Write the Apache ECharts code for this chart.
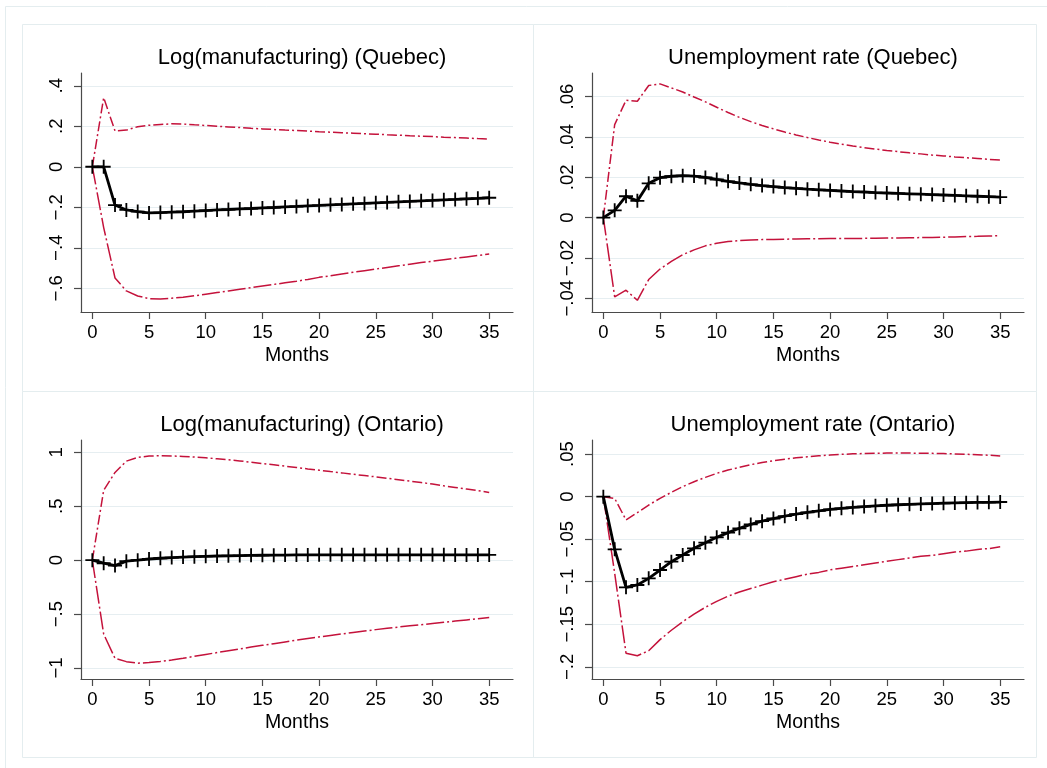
<!DOCTYPE html>
<html>
<head>
<meta charset="utf-8">
<script src="https://cdn.jsdelivr.net/npm/echarts@6/dist/echarts.min.js"></script>
<style>
  html, body { margin: 0; padding: 0; background: #ffffff; }
  #chart { width: 1047px; height: 768px; }
</style>
</head>
<body>
<div id="chart"></div>
<script>
// Impulse responses over 36 months with lower/upper confidence bands
const months = Array.from({ length: 36 }, (_, i) => i);
const monthTicks = [0, 5, 10, 15, 20, 25, 30, 35];

const titles = [
  'Log(manufacturing) (Quebec)',
  'Unemployment rate (Quebec)',
  'Log(manufacturing) (Ontario)',
  'Unemployment rate (Ontario)'
];

// Log(manufacturing), Quebec
const qcMfgIrf = [0, 0, -0.189, -0.213, -0.221, -0.228, -0.226, -0.224, -0.222, -0.219, -0.216, -0.213, -0.211, -0.208, -0.206, -0.203, -0.201, -0.198, -0.196, -0.193, -0.191, -0.188, -0.186, -0.183, -0.181, -0.178, -0.176, -0.173, -0.171, -0.168, -0.166, -0.163, -0.161, -0.158, -0.156, -0.153];
const qcMfgUpper = [0, 0.341, 0.177, 0.181, 0.198, 0.205, 0.209, 0.212, 0.211, 0.207, 0.204, 0.2, 0.197, 0.194, 0.19, 0.187, 0.184, 0.181, 0.179, 0.176, 0.173, 0.171, 0.168, 0.166, 0.163, 0.161, 0.158, 0.156, 0.153, 0.151, 0.149, 0.146, 0.144, 0.142, 0.139, 0.137];
const qcMfgLower = [0, -0.3, -0.549, -0.613, -0.638, -0.651, -0.653, -0.649, -0.644, -0.637, -0.629, -0.621, -0.613, -0.605, -0.597, -0.589, -0.581, -0.573, -0.565, -0.556, -0.546, -0.538, -0.529, -0.521, -0.513, -0.505, -0.497, -0.489, -0.481, -0.473, -0.466, -0.459, -0.452, -0.445, -0.438, -0.431];

// Unemployment rate, Quebec
const qcUnIrf = [0, 0.0036, 0.0106, 0.0083, 0.017, 0.0198, 0.0205, 0.0208, 0.0206, 0.0199, 0.0189, 0.018, 0.0172, 0.0165, 0.0159, 0.0154, 0.0149, 0.0145, 0.0141, 0.0138, 0.0135, 0.0132, 0.0129, 0.0127, 0.0124, 0.0122, 0.012, 0.0118, 0.0116, 0.0114, 0.0112, 0.011, 0.0108, 0.0106, 0.0104, 0.0102];
const qcUnUpper = [0, 0.0461, 0.0582, 0.0577, 0.0655, 0.0663, 0.0643, 0.0623, 0.0598, 0.0574, 0.0547, 0.0521, 0.0497, 0.0476, 0.0457, 0.044, 0.0424, 0.041, 0.0397, 0.0385, 0.0374, 0.0364, 0.0355, 0.0347, 0.034, 0.0333, 0.0327, 0.0321, 0.0316, 0.031, 0.0306, 0.0301, 0.0297, 0.0293, 0.0289, 0.0286];
const qcUnLower = [0, -0.0393, -0.036, -0.041, -0.0307, -0.0255, -0.0217, -0.0184, -0.016, -0.014, -0.0127, -0.0119, -0.0114, -0.0111, -0.0109, -0.0108, -0.0107, -0.0106, -0.0105, -0.0105, -0.0104, -0.0104, -0.0103, -0.0103, -0.0102, -0.0101, -0.0101, -0.01, -0.0099, -0.0098, -0.0097, -0.0096, -0.0094, -0.0093, -0.0091, -0.009];

// Log(manufacturing), Ontario
const onMfgIrf = [0, -0.028, -0.05, -0.009, 0, 0.011, 0.018, 0.024, 0.029, 0.033, 0.036, 0.039, 0.041, 0.043, 0.045, 0.046, 0.047, 0.048, 0.049, 0.049, 0.05, 0.05, 0.05, 0.05, 0.05, 0.05, 0.05, 0.05, 0.05, 0.05, 0.05, 0.05, 0.049, 0.049, 0.049, 0.049];
const onMfgUpper = [0, 0.649, 0.814, 0.919, 0.953, 0.966, 0.969, 0.967, 0.963, 0.957, 0.95, 0.941, 0.932, 0.921, 0.909, 0.897, 0.885, 0.872, 0.86, 0.847, 0.835, 0.822, 0.81, 0.797, 0.785, 0.773, 0.76, 0.747, 0.733, 0.72, 0.706, 0.69, 0.675, 0.66, 0.645, 0.629];
const onMfgLower = [0, -0.686, -0.91, -0.941, -0.955, -0.95, -0.939, -0.926, -0.91, -0.892, -0.874, -0.857, -0.84, -0.823, -0.806, -0.79, -0.774, -0.758, -0.742, -0.727, -0.712, -0.698, -0.684, -0.67, -0.657, -0.644, -0.632, -0.62, -0.609, -0.598, -0.587, -0.576, -0.565, -0.554, -0.543, -0.532];

// Unemployment rate, Ontario
const onUnIrf = [0, -0.0619, -0.1066, -0.1038, -0.096, -0.0862, -0.0764, -0.0686, -0.0607, -0.0541, -0.0478, -0.0423, -0.0372, -0.0326, -0.0288, -0.0257, -0.0229, -0.0205, -0.0184, -0.0166, -0.015, -0.0137, -0.0126, -0.0116, -0.0108, -0.0101, -0.0095, -0.009, -0.0085, -0.0081, -0.0077, -0.0074, -0.0071, -0.0068, -0.0066, -0.0063];
const onUnUpper = [0, -0.002, -0.0274, -0.0188, -0.0098, -0.002, 0.0051, 0.0118, 0.0176, 0.0227, 0.0274, 0.0313, 0.0345, 0.0376, 0.0402, 0.0423, 0.0441, 0.0456, 0.0469, 0.048, 0.0489, 0.0497, 0.0503, 0.0507, 0.051, 0.0512, 0.0512, 0.0512, 0.0511, 0.0509, 0.0506, 0.0502, 0.0498, 0.0493, 0.0487, 0.0478];
const onUnLower = [0, -0.09, -0.184, -0.187, -0.181, -0.168, -0.157, -0.147, -0.138, -0.13, -0.123, -0.117, -0.112, -0.108, -0.104, -0.1, -0.097, -0.094, -0.091, -0.089, -0.086, -0.084, -0.082, -0.08, -0.078, -0.076, -0.074, -0.072, -0.07, -0.069, -0.067, -0.065, -0.064, -0.062, -0.061, -0.059];

// y tick values per panel
const yTicksQcMfg = [-0.6, -0.4, -0.2, 0, 0.2, 0.4];
const yTicksQcUn = [-0.04, -0.02, 0, 0.02, 0.04, 0.06];
const yTicksOnMfg = [-1, -0.5, 0, 0.5, 1];
const yTicksOnUn = [-0.2, -0.15, -0.1, -0.05, 0, 0.05];

const panels = [
  { irf: qcMfgIrf, upper: qcMfgUpper, lower: qcMfgLower, ticks: yTicksQcMfg, min: -0.717, max: 0.463 },
  { irf: qcUnIrf, upper: qcUnUpper, lower: qcUnLower, ticks: yTicksQcUn, min: -0.0468, max: 0.0717 },
  { irf: onMfgIrf, upper: onMfgUpper, lower: onMfgLower, ticks: yTicksOnMfg, min: -1.102, max: 1.115 },
  { irf: onUnIrf, upper: onUnUpper, lower: onUnLower, ticks: yTicksOnUn, min: -0.2143, max: 0.0666 }
];

// layout of the 2x2 panels (pixels)
const boxes = [
  { x: 22, y: 24, w: 511, h: 367 },
  { x: 533, y: 24, w: 503, h: 367 },
  { x: 22, y: 391, w: 511, h: 366 },
  { x: 533, y: 391, w: 503, h: 366 }
];
const grids = [
  { left: 81, top: 73, width: 432, height: 239 },
  { left: 592, top: 73, width: 432, height: 239 },
  { left: 81, top: 440, width: 432, height: 239 },
  { left: 592, top: 440, width: 432, height: 239 }
];

const FONT = '"Liberation Sans", Arial, Helvetica, sans-serif';
const RED = '#c4123b';
const AXIS = '#4a4a4a';
const GRIDLINE = '#e6eef1';
const PLUS = 'path://M-0.13,-1H0.13V-0.13H1V0.13H0.13V1H-0.13V0.13H-1V-0.13H-0.13Z';

function stataNum(v) {
  if (Math.abs(v) < 1e-12) return '0';
  let s = String(+v.toFixed(4));
  s = s.replace(/^(-?)0\./, '$1.');
  return s.replace('-', '\u2212');
}

const chart = echarts.init(document.getElementById('chart'), null, { renderer: 'canvas' });

const option = {
  animation: false,
  backgroundColor: '#ffffff',
  textStyle: { fontFamily: FONT },
  graphic: [
    {
      type: 'rect', silent: true, z: -10,
      shape: { x: 5.5, y: 6.5, width: 1060, height: 780 },
      style: { fill: 'none', stroke: '#e4edef', lineWidth: 1 }
    }
  ].concat(boxes.map(b => ({
    type: 'rect', silent: true, z: -9,
    shape: { x: b.x + 0.5, y: b.y + 0.5, width: b.w, height: b.h },
    style: { fill: 'none', stroke: '#e4edef', lineWidth: 1 }
  }))),
  title: titles.map((t, i) => ({
    text: t,
    left: grids[i].left + grids[i].width / 2,
    top: grids[i].top - 31,
    textAlign: 'center',
    textStyle: { fontFamily: FONT, fontSize: 22, fontWeight: 'normal', color: '#000' }
  })),
  grid: grids.map(g => Object.assign({ containLabel: false }, g)),
  xAxis: grids.map((g, i) => ({
    type: 'value',
    gridIndex: i,
    min: -1,
    max: 37.1,
    name: 'Months',
    nameLocation: 'middle',
    nameGap: 34,
    nameTextStyle: { fontFamily: FONT, fontSize: 19.5, color: '#000' },
    axisLine: { show: true, onZero: false, lineStyle: { color: AXIS, width: 1.2 } },
    axisTick: { show: true, length: 7, customValues: monthTicks, lineStyle: { color: AXIS, width: 1.2 } },
    axisLabel: { customValues: monthTicks, margin: 11, fontFamily: FONT, fontSize: 18.5, color: '#000' },
    splitLine: { show: false }
  })),
  yAxis: panels.map((p, i) => ({
    type: 'value',
    gridIndex: i,
    min: p.min,
    max: p.max,
    axisLine: { show: true, onZero: false, lineStyle: { color: AXIS, width: 1.2 } },
    axisTick: { show: true, length: 7, customValues: p.ticks, lineStyle: { color: AXIS, width: 1.2 } },
    axisLabel: {
      customValues: p.ticks, rotate: 90, margin: 15,
      fontFamily: FONT, fontSize: 18.5, color: '#000',
      formatter: stataNum
    },
    splitLine: { show: true, lineStyle: { color: GRIDLINE, width: 1.2 } }
  })),
  series: []
};

panels.forEach((p, i) => {
  const pairs = arr => months.map((m, k) => [m, arr[k]]);
  option.series.push({
    type: 'line', xAxisIndex: i, yAxisIndex: i, data: pairs(p.upper),
    showSymbol: false, symbol: 'none', z: 3,
    lineStyle: { color: RED, width: 1.5, type: [10, 3, 2, 3] }
  });
  option.series.push({
    type: 'line', xAxisIndex: i, yAxisIndex: i, data: pairs(p.lower),
    showSymbol: false, symbol: 'none', z: 3,
    lineStyle: { color: RED, width: 1.5, type: [18, 3, 2, 3] }
  });
  option.series.push({
    type: 'line', xAxisIndex: i, yAxisIndex: i, data: pairs(p.irf),
    symbol: PLUS, symbolSize: 14, showSymbol: true, z: 5,
    itemStyle: { color: '#000', borderWidth: 0 },
    lineStyle: { color: '#000', width: 2.8 }
  });
});

chart.setOption(option);
</script>
</body>
</html>
